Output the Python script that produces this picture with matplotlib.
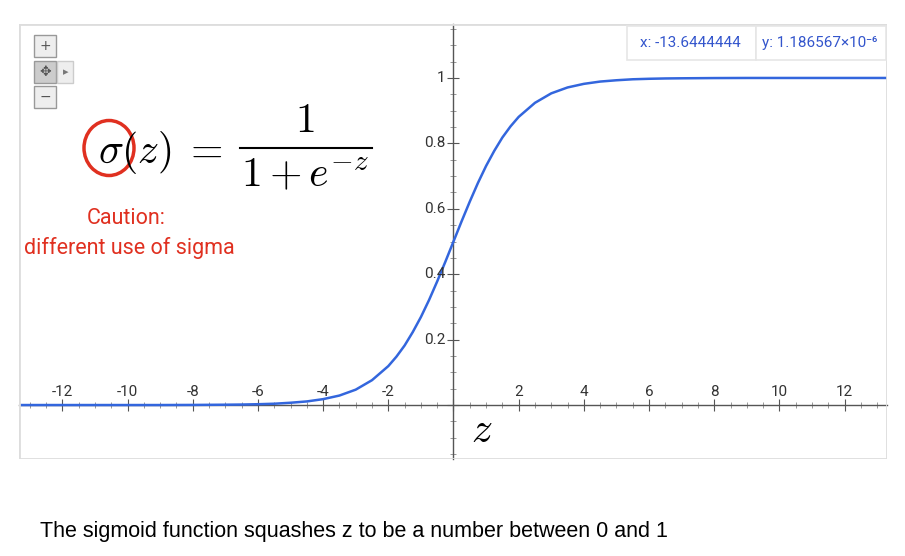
import matplotlib
matplotlib.use("Agg")
import matplotlib.pyplot as plt
from matplotlib.patches import Ellipse, Rectangle
from matplotlib.ticker import MultipleLocator, NullFormatter

plt.rcParams['mathtext.fontset'] = 'cm'

# Values
z_vals = [-13.5, -13, -12, -11, -10, -9, -8, -7, -6.5, -6, -5.5, -5, -4.5, -4, -3.5, -3, -2.5, -2,
          -1.75, -1.5, -1.25, -1, -0.75, -0.5, -0.25, 0, 0.25, 0.5, 0.75, 1, 1.25, 1.5, 1.75, 2,
          2.5, 3, 3.5, 4, 4.5, 5, 5.5, 6, 6.5, 7, 8, 9, 10, 11, 12, 13, 13.5]
s_vals = [0.0, 0.0, 0.0, 0.0, 0.0, 0.0, 0.0003, 0.001, 0.0015, 0.0025, 0.004, 0.007, 0.011, 0.018,
          0.029, 0.047, 0.076, 0.119, 0.148, 0.182, 0.223, 0.269, 0.321, 0.378, 0.438, 0.5, 0.562,
          0.622, 0.679, 0.731, 0.777, 0.818, 0.852, 0.881, 0.924, 0.953, 0.971, 0.982, 0.989, 0.993,
          0.996, 0.9975, 0.9985, 0.999, 0.9997, 1.0, 1.0, 1.0, 1.0, 1.0, 1.0]
x_ticks = [-12, -10, -8, -6, -4, -2, 2, 4, 6, 8, 10, 12]
y_ticks = [0.2, 0.4, 0.6, 0.8, 1.0]
y_tick_labels = ['0.2', '0.4', '0.6', '0.8', '1']

W, H = 905, 556
fig = plt.figure(figsize=(W/100, H/100), dpi=100)
ax = fig.add_axes([19/W, (H-459)/H, 868/W, 435/H])
ax.set_xlim(-13.33, 13.3)
ax.set_ylim(-0.165, 1.165)

curve_color = '#3366dd'
ax.plot(z_vals, s_vals, color=curve_color, lw=1.8, zorder=3, clip_on=True)

for s in ['top', 'right']:
    ax.spines[s].set_visible(False)
ax.spines['left'].set_position(('data', 0))
ax.spines['bottom'].set_position(('data', 0))
for s in ['left', 'bottom']:
    ax.spines[s].set_color('#555555')
    ax.spines[s].set_linewidth(1)
ax.xaxis.set_major_locator(MultipleLocator(2))
ax.xaxis.set_minor_locator(MultipleLocator(0.5))
ax.yaxis.set_major_locator(MultipleLocator(0.2))
ax.yaxis.set_minor_locator(MultipleLocator(0.05))
ax.xaxis.set_major_formatter(NullFormatter())
ax.yaxis.set_major_formatter(NullFormatter())
ax.tick_params(which='major', direction='inout', length=9, color='#555555')
ax.tick_params(which='minor', direction='inout', length=5, color='#888888')

for t in x_ticks:
    ax.text(t, 0.018, str(t), ha='center', va='bottom', fontsize=11, color='#333333', family='Roboto')
for t, l in zip(y_ticks, y_tick_labels):
    ax.text(-0.25, t, l, ha='right', va='center', fontsize=11, color='#333333', family='Roboto')

# panel border
ax.add_patch(Rectangle((0, 0), 1, 1, transform=ax.transAxes, fill=False, ec='#dddddd', lw=2, zorder=5))

def fx(px): return px / W
def fy(py): return 1 - py / H

fig.text(fx(98), fy(152), r'$\sigma(z)\;=$', fontsize=30, va='center', ha='left')
fig.text(fx(305), fy(120), r'$1$', fontsize=30, va='center', ha='center')
fig.add_artist(plt.Line2D([fx(240), fx(372)], [fy(148), fy(148)], color='black', lw=1.5))
fig.text(fx(305), fy(174), r'$1+e^{-z}$', fontsize=30, va='center', ha='center')
fig.add_artist(Ellipse((fx(109), fy(148)), 50/W, 55/H, transform=fig.transFigure,
                       fill=False, ec='#e03020', lw=2.5))
fig.text(fx(126), fy(218), 'Caution:', color='#e03020', fontsize=15.5, ha='center', va='center', family='Roboto')
fig.text(fx(129), fy(248), 'different use of sigma', color='#e03020', fontsize=15.5, ha='center', va='center', family='Roboto')

fig.text(fx(482), fy(430), r'$z$', fontsize=30, ha='center', va='center')

# zoom control
for (yy, sym) in [(46, '+'), (72, '✥'), (97, '−')]:
    fig.add_artist(Rectangle((fx(34), fy(yy + 11)), 22/W, 22/H, transform=fig.transFigure,
                             fc='#eeeeee' if sym != '✥' else '#cccccc', ec='#999999', lw=1))
    fig.text(fx(45), fy(yy), sym, fontsize=10, ha='center', va='center', color='#555555', family='DejaVu Sans')
fig.add_artist(Rectangle((fx(57), fy(83)), 16/W, 22/H, transform=fig.transFigure,
                         fc='#eeeeee', ec='#cccccc', lw=1))
fig.text(fx(66), fy(72), '▸', fontsize=8, ha='center', va='center', color='#777777', family='DejaVu Sans')

# coordinate readout
fig.add_artist(Rectangle((fx(627), fy(60)), 129/W, 34/H, transform=fig.transFigure,
                         fc='white', ec='#e6e6e6', lw=1.2))
fig.add_artist(Rectangle((fx(756), fy(60)), 130/W, 34/H, transform=fig.transFigure,
                         fc='white', ec='#e6e6e6', lw=1.2))
fig.text(fx(690), fy(43), 'x: -13.6444444', color='#3355cc', fontsize=11, ha='center', va='center', family='Roboto')
fig.text(fx(820), fy(43), 'y: 1.186567×10⁻⁶', color='#3355cc', fontsize=11, ha='center', va='center', family=['Roboto', 'DejaVu Sans'])

fig.text(fx(40), fy(532), 'The sigmoid function squashes z to be a number between 0 and 1',
         fontsize=15.5, ha='left', va='center', family='Liberation Sans')

fig.savefig('out.png', dpi=100)
